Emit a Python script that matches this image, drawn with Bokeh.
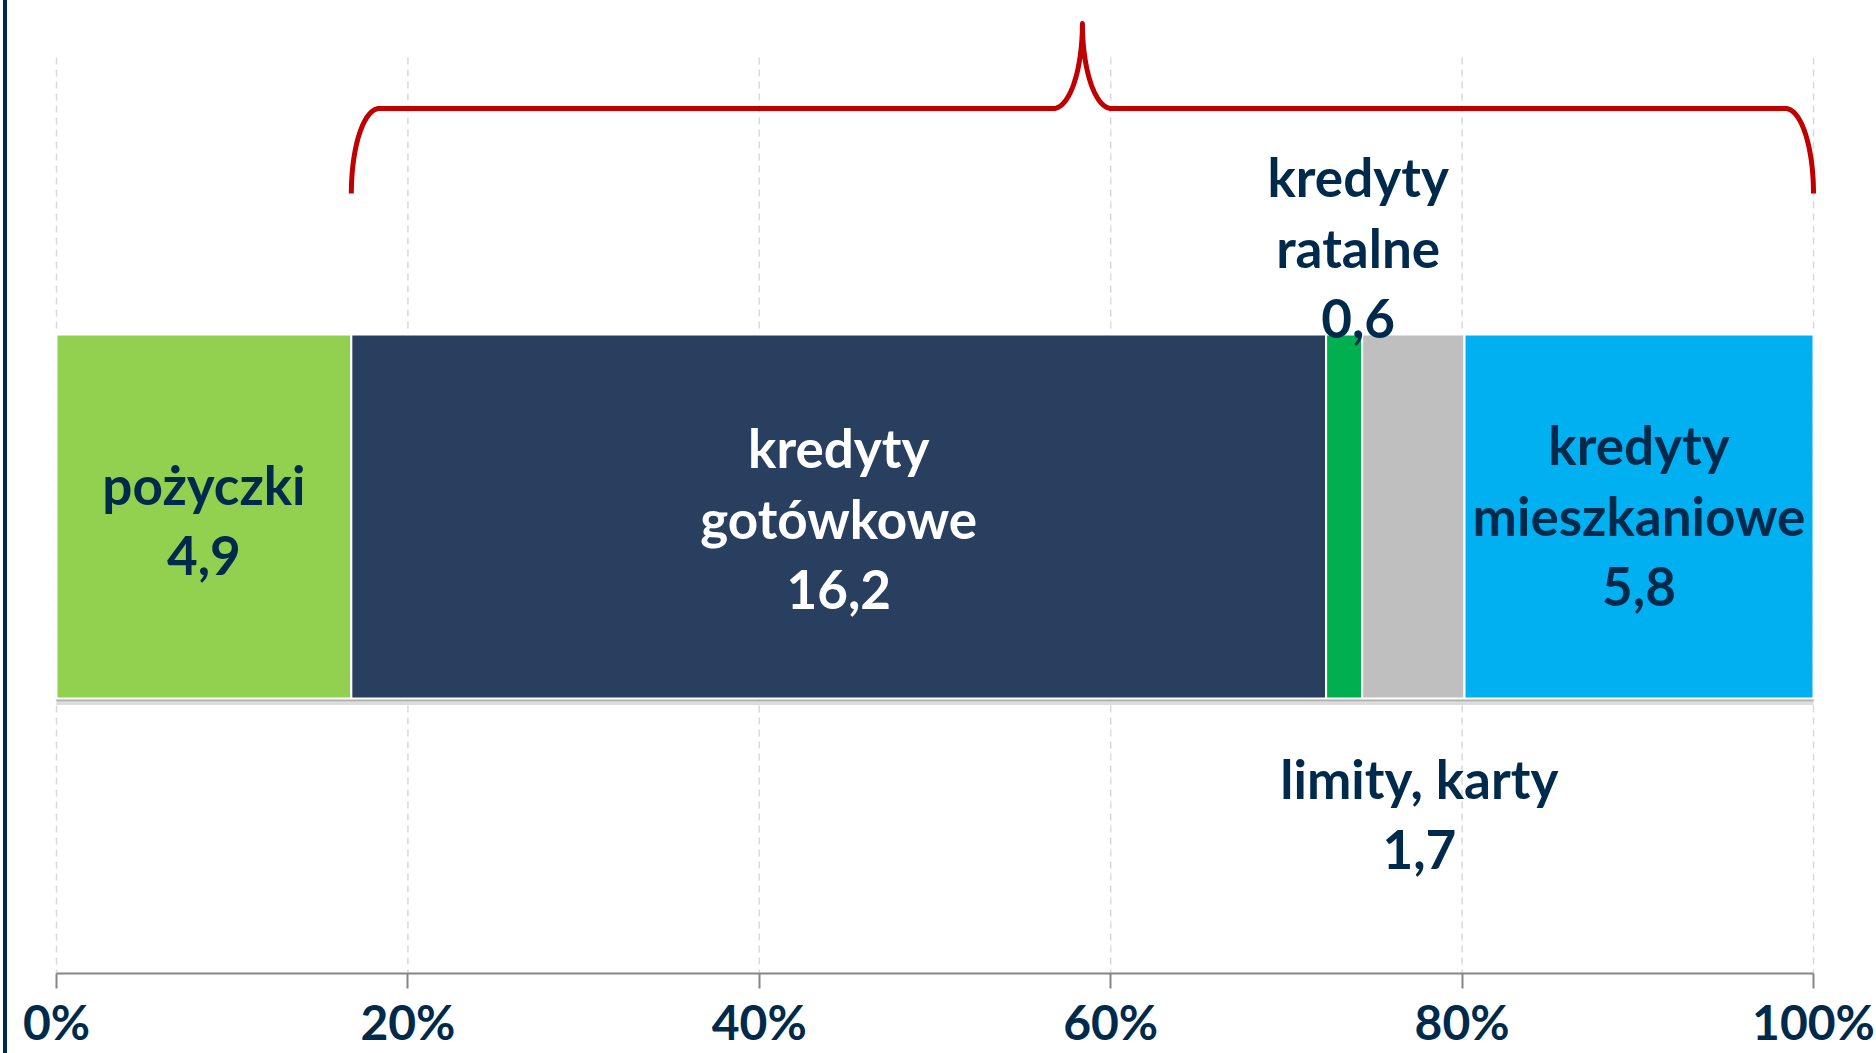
import numpy as np
from bokeh.plotting import figure
from bokeh.models import Range1d, FixedTicker, ColumnDataSource
from bokeh.core.properties import value
from bokeh.embed import file_html
from bokeh.resources import INLINE

# ---- data ----
categories = ["pożyczki", "kredyty gotówkowe", "kredyty ratalne", "limity, karty", "kredyty mieszkaniowe"]
name_lines = [["pożyczki"], ["kredyty", "gotówkowe"], ["kredyty", "ratalne"], ["limity, karty"], ["kredyty", "mieszkaniowe"]]
amounts = [4.9, 16.2, 0.6, 1.7, 5.8]
amount_labels = ["4,9", "16,2", "0,6", "1,7", "5,8"]
tick_values = [0, 20, 40, 60, 80, 100]
tick_labels = ["0%", "20%", "40%", "60%", "80%", "100%"]

# ---- style ----
colors = ["#92D050", "#283F60", "#00B050", "#BFBFBF", "#00B0F0"]
text_colors = ["#002A4C", "#FFFFFF", "#002A4C", "#002A4C", "#002A4C"]
label_top = [484, 447, 176, 778, 444]     # first-line baseline, px from top
label_dx = [0, 0, 14, 6, 0]               # horizontal nudge, px
line_pitch = 71
NAVY = "#002A4C"
FONT = "Lato"

W, H = 1876, 1053
PX_PER_PCT = 17.57
LEFT0 = 56       # canvas px of 0%
AXIS_Y = 973     # canvas px of the axis line

amounts_arr = np.array(amounts)
share = amounts_arr / amounts_arr.sum() * 100.0
right = np.cumsum(share)
left = right - share
center = (left + right) / 2

p = figure(width=W, height=H, output_backend="svg", toolbar_location=None,
           x_range=Range1d(-LEFT0 / PX_PER_PCT, (W - LEFT0) / PX_PER_PCT),
           y_range=Range1d(AXIS_Y, 0),
           min_border_left=0, min_border_right=0, min_border_top=0, min_border_bottom=H - AXIS_Y)
p.border_fill_color = None
p.background_fill_color = None
p.outline_line_color = None
p.styles = {"background": "linear-gradient(to right, #FFFFFF 3px, #002A4C 3px, #002A4C 7px, #FFFFFF 7px)"}
p.yaxis.visible = False
p.ygrid.visible = False
p.xgrid.visible = False

# dashed vertical grid
p.segment(x0=tick_values, x1=tick_values, y0=[57] * len(tick_values), y1=[AXIS_Y] * len(tick_values),
          line_color="#D9D9D9", line_width=1.5, line_dash="7 5")

# red brace over everything except pożyczki
x0b, x1b = left[1], 100.0
xm = (x0b + x1b) / 2
rc = 28 / PX_PER_PCT
rp = 29 / PX_PER_PCT
yb, ymid, ytop = 193.0, 108.0, 23.0
t = np.linspace(0, np.pi / 2, 40)
bx = np.concatenate([
    x0b + rc * (1 - np.cos(t)),
    (xm - rp) + rp * np.sin(t),
    (xm + rp) - rp * np.sin(t[::-1]),
    x1b - rc * (1 - np.cos(t[::-1])),
])
by = np.concatenate([
    yb - (yb - ymid) * np.sin(t),
    ytop + (ymid - ytop) * np.cos(t),
    ytop + (ymid - ytop) * np.cos(t[::-1]),
    yb - (yb - ymid) * np.sin(t[::-1]),
])
p.line(bx, by, line_color="#C00000", line_width=5, line_join="round")

# bar shadow
p.segment(x0=[0], x1=[100], y0=[701.5], y1=[701.5], line_color="#9A9A9A", line_width=6, line_alpha=0.35)
p.segment(x0=[0], x1=[100], y0=[699.5], y1=[699.5], line_color="#8A8A8A", line_width=2.5, line_alpha=0.55)

# stacked bar
src = ColumnDataSource(dict(left=left, right=right, color=colors, cat=categories))
p.hbar(y=516, left="left", right="right", height=364, fill_color="color", source=src,
       line_color="#FFFFFF", line_width=2)

# labels
xs, ys, txt, tcol = [], [], [], []
for i in range(len(categories)):
    lines = name_lines[i] + [amount_labels[i]]
    for j, s in enumerate(lines):
        xs.append(center[i] + label_dx[i] / PX_PER_PCT)
        ys.append(label_top[i] + j * line_pitch)
        txt.append(s)
        tcol.append(text_colors[i])
p.text(x=xs, y=ys, text=txt, text_color=tcol, text_align="center", text_baseline="alphabetic",
       text_font=value(FONT), text_font_style="bold", text_font_size="53px")

# axis
ax = p.xaxis[0]
ax.ticker = FixedTicker(ticks=tick_values)
ax.major_label_overrides = {v: l for v, l in zip(tick_values, tick_labels)}
ax.bounds = (0, 100)
ax.axis_line_color = "#868686"
ax.axis_line_width = 2
ax.major_tick_line_color = "#868686"
ax.major_tick_line_width = 2
ax.major_tick_out = 15
ax.major_tick_in = 0
ax.minor_tick_line_color = None
ax.major_label_standoff = 4
ax.major_label_text_font = FONT
ax.major_label_text_font_style = "bold"
ax.major_label_text_font_size = "48px"
ax.major_label_text_color = NAVY

open("out.html", "w").write(file_html(p, INLINE))
